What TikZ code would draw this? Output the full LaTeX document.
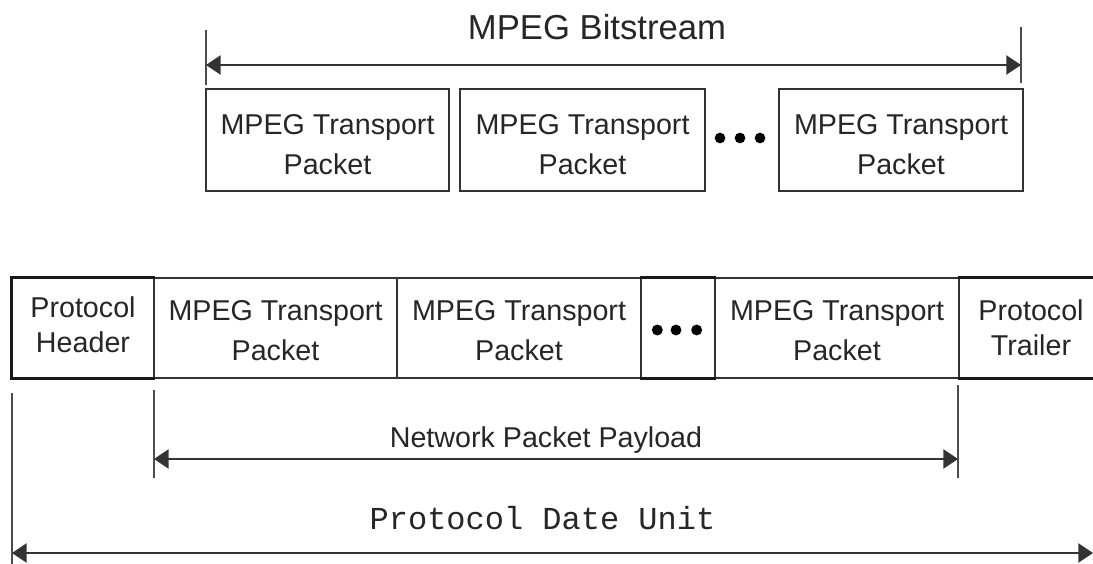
\documentclass[tikz,border=0pt]{standalone}
\usepackage{fontspec}
\setmainfont{Liberation Sans}
\newfontfamily\pdumono{Liberation Mono}
\usetikzlibrary{arrows.meta}
\begin{document}
\begin{tikzpicture}[x=0.75pt,y=-0.75pt,
  ln/.style={line width=1.1pt, draw=black!80},
  thk/.style={line width=2.4pt, draw=black!90},
  pbox/.style={ln, rectangle, inner sep=0pt, align=center,
    font=\fontsize{21.5pt}{30pt}\selectfont, text=black!85},
  hbox/.style={pbox, font=\fontsize{21.5pt}{26.25pt}\selectfont},
  lbl/.style={inner sep=0pt, anchor=base, text=black!85},
  tick/.style={line width=1.1pt, draw=black!70},
  dim/.style={line width=1.1pt, draw=black!80,
    {Triangle[length=11pt,width=14.5pt]}-{Triangle[length=11pt,width=14.5pt]}},
  dot/.style={fill=black}
]
\useasboundingbox (0,0) rectangle (1093,564);
\clip (0,0) rectangle (1093,564);

% ---------- top: MPEG bitstream ----------
\node[lbl, font=\fontsize{26pt}{30pt}\selectfont] (title) at (597,40) {MPEG Bitstream};
\coordinate (tlt) at (206,30); \coordinate (tlb) at (206,85);
\coordinate (trt) at (1021,27); \coordinate (trb) at (1021,83);
\coordinate (tla) at (206,65); \coordinate (tra) at (1021,65);
\draw[tick] (tlt) -- (tlb);
\draw[tick] (trt) -- (trb);
\draw[dim] (tla) -- (tra);

\node[pbox, minimum width=182.25pt, minimum height=76.5pt] (tp1) at (327.5,140) {\rule{0pt}{21.7pt}MPEG Transport\\Packet};
\node[pbox, minimum width=183.75pt, minimum height=76.5pt] (tp2) at (582.5,140) {\rule{0pt}{21.7pt}MPEG Transport\\Packet};
\node[pbox, minimum width=183pt, minimum height=76.5pt] (tp3) at (901,140) {\rule{0pt}{21.7pt}MPEG Transport\\Packet};
\node[inner sep=0pt, minimum size=1pt] (tdots) at (740,138) {};
\fill[dot] ([xshift=-15pt]tdots.center) circle (4pt);
\fill[dot] (tdots.center) circle (4pt);
\fill[dot] ([xshift=15pt]tdots.center) circle (4pt);

% ---------- bottom: network packet ----------
\node[hbox, minimum width=106.5pt, minimum height=75pt] (hdr) at (83,328) {Protocol\\Header\rule[-4.5pt]{0pt}{0pt}};
\node[pbox, minimum width=182.25pt, minimum height=75pt] (mp1) at (275.5,328) {\rule{0pt}{18.5pt}MPEG Transport\\Packet};
\node[pbox, minimum width=183pt, minimum height=75pt] (mp2) at (519,328) {\rule{0pt}{18.5pt}MPEG Transport\\Packet};
\node[pbox, minimum width=55.5pt, minimum height=75pt] (bdots) at (678,328) {};
\node[pbox, minimum width=183pt, minimum height=75pt] (mp3) at (837,328) {\rule{0pt}{18.5pt}MPEG Transport\\Packet};
\node[hbox, minimum width=108pt, minimum height=75pt] (trl) at (1031,328) {Protocol\\Trailer};
\fill[dot] ([xshift=-15.5pt,yshift=-1.5pt]bdots.center) circle (4.1pt);
\fill[dot] ([xshift=-1.5pt,yshift=-1.5pt]bdots.center) circle (4.1pt);
\fill[dot] ([xshift=14pt,yshift=-1.5pt]bdots.center) circle (4.1pt);

% thick edges of header, dots and trailer cells
\draw[thk] (hdr.north east) -- (hdr.north west) -- (hdr.south west) -- (hdr.south east);
\draw[thk] (bdots.north west) -- (bdots.north east);
\draw[thk] (bdots.south west) -- (bdots.south east);
\draw[thk] (trl.north west) -- (trl.north east);
\draw[thk] (trl.south west) -- (trl.south east);

% ---------- payload dimension ----------
\coordinate (plt) at (154,390); \coordinate (plb) at (154,478);
\coordinate (prt) at (958,385); \coordinate (prb) at (958,478);
\coordinate (pla) at (154,459); \coordinate (pra) at (958,459);
\draw[tick] (plt) -- (plb);
\draw[tick] (prt) -- (prb);
\draw[dim] (pla) -- (pra);
\node[lbl, font=\fontsize{21.5pt}{26pt}\selectfont] (npp) at (546,447) {Network Packet Payload};

% ---------- protocol data unit dimension ----------
\coordinate (ult) at (12,393); \coordinate (ulb) at (12,566);
\coordinate (ula) at (12,553); \coordinate (ura) at (1093,553);
\draw[tick] (ult) -- (ulb);
\draw[dim] (ula) -- (ura);
\node[lbl, font=\pdumono\fontsize{24pt}{28pt}\selectfont] (pdu) at (542.5,529) {Protocol Date Unit};
\end{tikzpicture}
\end{document}
